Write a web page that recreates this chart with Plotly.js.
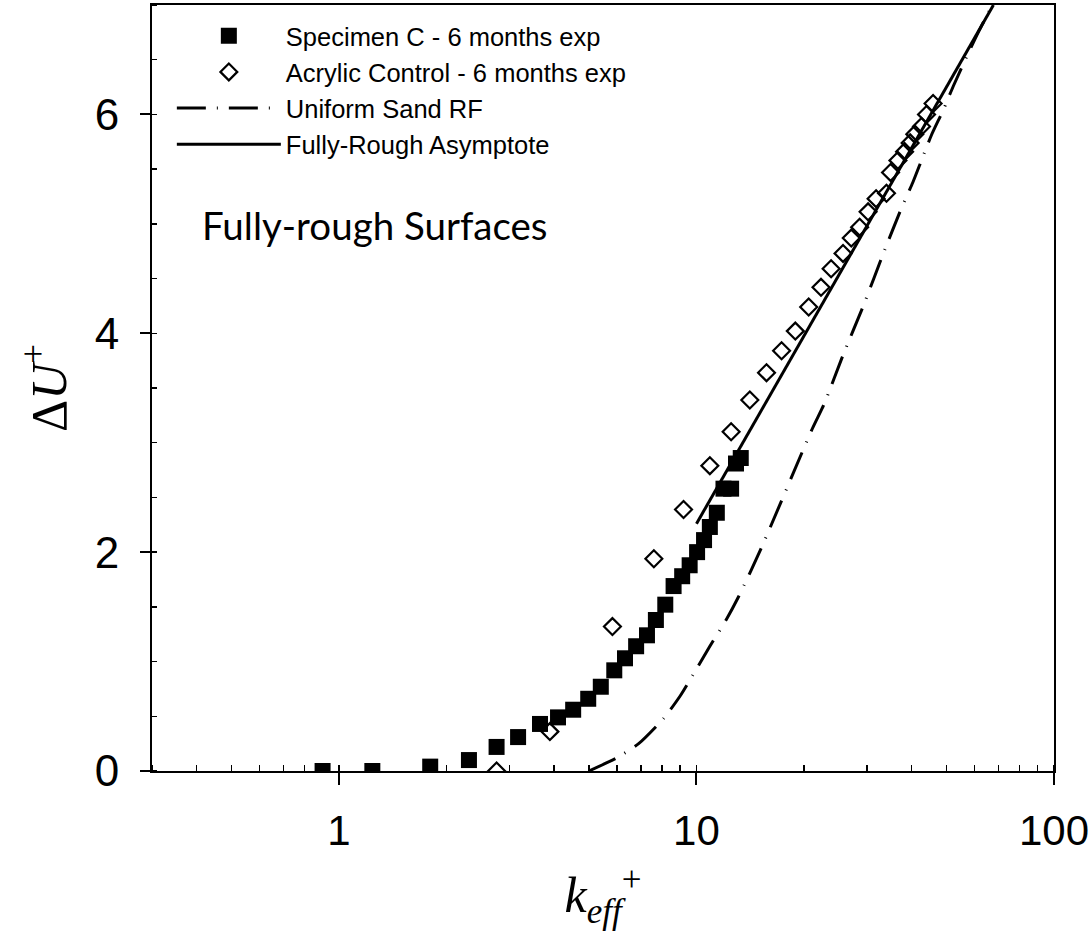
<!DOCTYPE html>
<html><head><meta charset="utf-8">
<script src="https://cdn.plot.ly/plotly-3.0.1.min.js"></script>
<style>html,body{margin:0;padding:0;background:#fff;} #chart{width:1090px;height:931px;}</style>
</head><body><div id="chart"></div>
<script>
// Specimen C - 6 months exp (filled squares)
const specimenK  = [0.90, 1.24, 1.80, 2.31, 2.76, 3.17, 3.65, 4.10, 4.52, 4.98, 5.40, 5.89, 6.31, 6.78, 7.27, 7.70, 8.18, 8.63, 9.12, 9.57, 10.04, 10.5, 10.9, 11.4, 11.9, 12.5, 12.9, 13.3];
const specimenDU = [0.00, 0.00, 0.04, 0.10, 0.22, 0.31, 0.43, 0.49, 0.56, 0.66, 0.77, 0.92, 1.03, 1.14, 1.24, 1.38, 1.52, 1.69, 1.78, 1.88, 2.00, 2.11, 2.23, 2.36, 2.58, 2.58, 2.81, 2.86];
// Acrylic Control - 6 months exp (open diamonds)
const acrylicK  = [2.76, 3.89, 5.82, 7.6, 9.2, 10.9, 12.5, 14.1, 15.7, 17.3, 18.9, 20.6, 22.3, 23.8, 25.7, 27.1, 28.6, 30.2, 31.8, 34.0, 34.9, 36.6, 38.2, 39.6, 40.8, 42.6, 44.0, 45.9];
const acrylicDU = [0.00, 0.36, 1.32, 1.94, 2.39, 2.79, 3.10, 3.39, 3.64, 3.84, 4.02, 4.24, 4.42, 4.59, 4.73, 4.87, 4.97, 5.11, 5.23, 5.28, 5.47, 5.58, 5.66, 5.74, 5.82, 5.89, 6.00, 6.10];
// Uniform Sand RF (dash-dot curve)
const sandK  = [5.0, 5.98, 6.89, 8.09, 9.02, 10.9, 12.1, 13.1, 15.1, 21.1, 22.8, 25.7, 29.2, 33.6, 37.4, 40.3, 42.6, 45.4, 49.0, 52.3, 57.6, 61.4, 67.0];
const sandDU = [0.00, 0.12, 0.25, 0.48, 0.69, 1.14, 1.38, 1.59, 2.02, 3.13, 3.36, 3.80, 4.24, 4.76, 5.14, 5.38, 5.58, 5.81, 6.04, 6.26, 6.56, 6.75, 6.99];
// Fully-Rough Asymptote (solid line)
const asymK  = [10.0, 67.7];
const asymDU = [2.26, 7.00];
// Axis ticks
const xTickVals = [1, 10, 100];
const xTickText = ['1', '10', '100'];
const yTickVals = [0, 2, 4, 6];
const yTickText = ['0', '2', '4', '6'];

const traces = [
  {x: specimenK, y: specimenDU, type: 'scatter', mode: 'markers', name: 'Specimen C - 6 months exp',
   marker: {symbol: 'square', size: 16, color: '#000'}},
  {x: acrylicK, y: acrylicDU, type: 'scatter', mode: 'markers', name: 'Acrylic Control - 6 months exp',
   marker: {symbol: 'diamond-open', size: 13, color: '#000', line: {width: 2.2, color: '#000'}}},
  {x: sandK, y: sandDU, type: 'scatter', mode: 'lines', name: 'Uniform Sand RF', line: {shape: 'spline', smoothing: 0.6,
   color: '#000', width: 3, dash: '29px,11px,1px,11px'}},
  {x: asymK, y: asymDU, type: 'scatter', mode: 'lines', name: 'Fully-Rough Asymptote',
   line: {color: '#000', width: 3}}
];

const layout = {
  width: 1090, height: 931,
  paper_bgcolor: '#fff', plot_bgcolor: '#fff',
  margin: {l: 152, r: 36, t: 5, b: 160},
  font: {family: '"Liberation Sans", Arial, sans-serif', color: '#000'},
  showlegend: true,
  legend: {x: 0.022, y: 0.99, xanchor: 'left', yanchor: 'top', bgcolor: 'rgba(0,0,0,0)',
    font: {size: 25.5, family: '"Liberation Sans", Arial, sans-serif'}, itemwidth: 104, tracegroupgap: 0},
  xaxis: {type: 'log', range: [Math.log10(0.3), 2], tickvals: xTickVals, ticktext: xTickText,
    ticks: 'outside', ticklen: 12, tickwidth: 2, tickcolor: '#000',
    minor: {ticks: 'inside', ticklen: 6, tickwidth: 1.5, tickcolor: '#000', dtick: 'D1'},
    showline: true, linewidth: 2, linecolor: '#000', mirror: true, showgrid: false, zeroline: false,
    tickfont: {size: 42}, ticklabelstandoff: 10, ticklabeloverflow: 'allow',
    title: {text: '<i>k<sub>eff</sub></i><sup>+</sup>', font: {family: '"Liberation Serif", "Times New Roman", serif', size: 50}, standoff: 26}},
  yaxis: {range: [0, 7], tickvals: yTickVals, ticktext: yTickText,
    ticks: 'outside', ticklen: 10, tickwidth: 2, tickcolor: '#000',
    minor: {ticks: 'inside', ticklen: 5, tickwidth: 1.5, tickcolor: '#000', dtick: 0.5},
    showline: true, linewidth: 2, linecolor: '#000', mirror: true, showgrid: false, zeroline: false,
    tickfont: {size: 44}, ticklabelstandoff: 12,
    title: {text: 'Δ<i>U</i><sup>+</sup>', font: {family: '"Liberation Serif", "Times New Roman", serif', size: 50}, standoff: 12}},
  annotations: [
    {xref: 'paper', yref: 'paper', x: 0.053, y: 0.713, xanchor: 'left', yanchor: 'middle', showarrow: false,
     text: 'Fully-rough Surfaces', font: {family: 'Lato, "Open Sans", sans-serif', size: 38.5, color: '#000'}}
  ]
};

Plotly.newPlot('chart', traces, layout, {displayModeBar: false, staticPlot: true});
</script>
</body></html>
